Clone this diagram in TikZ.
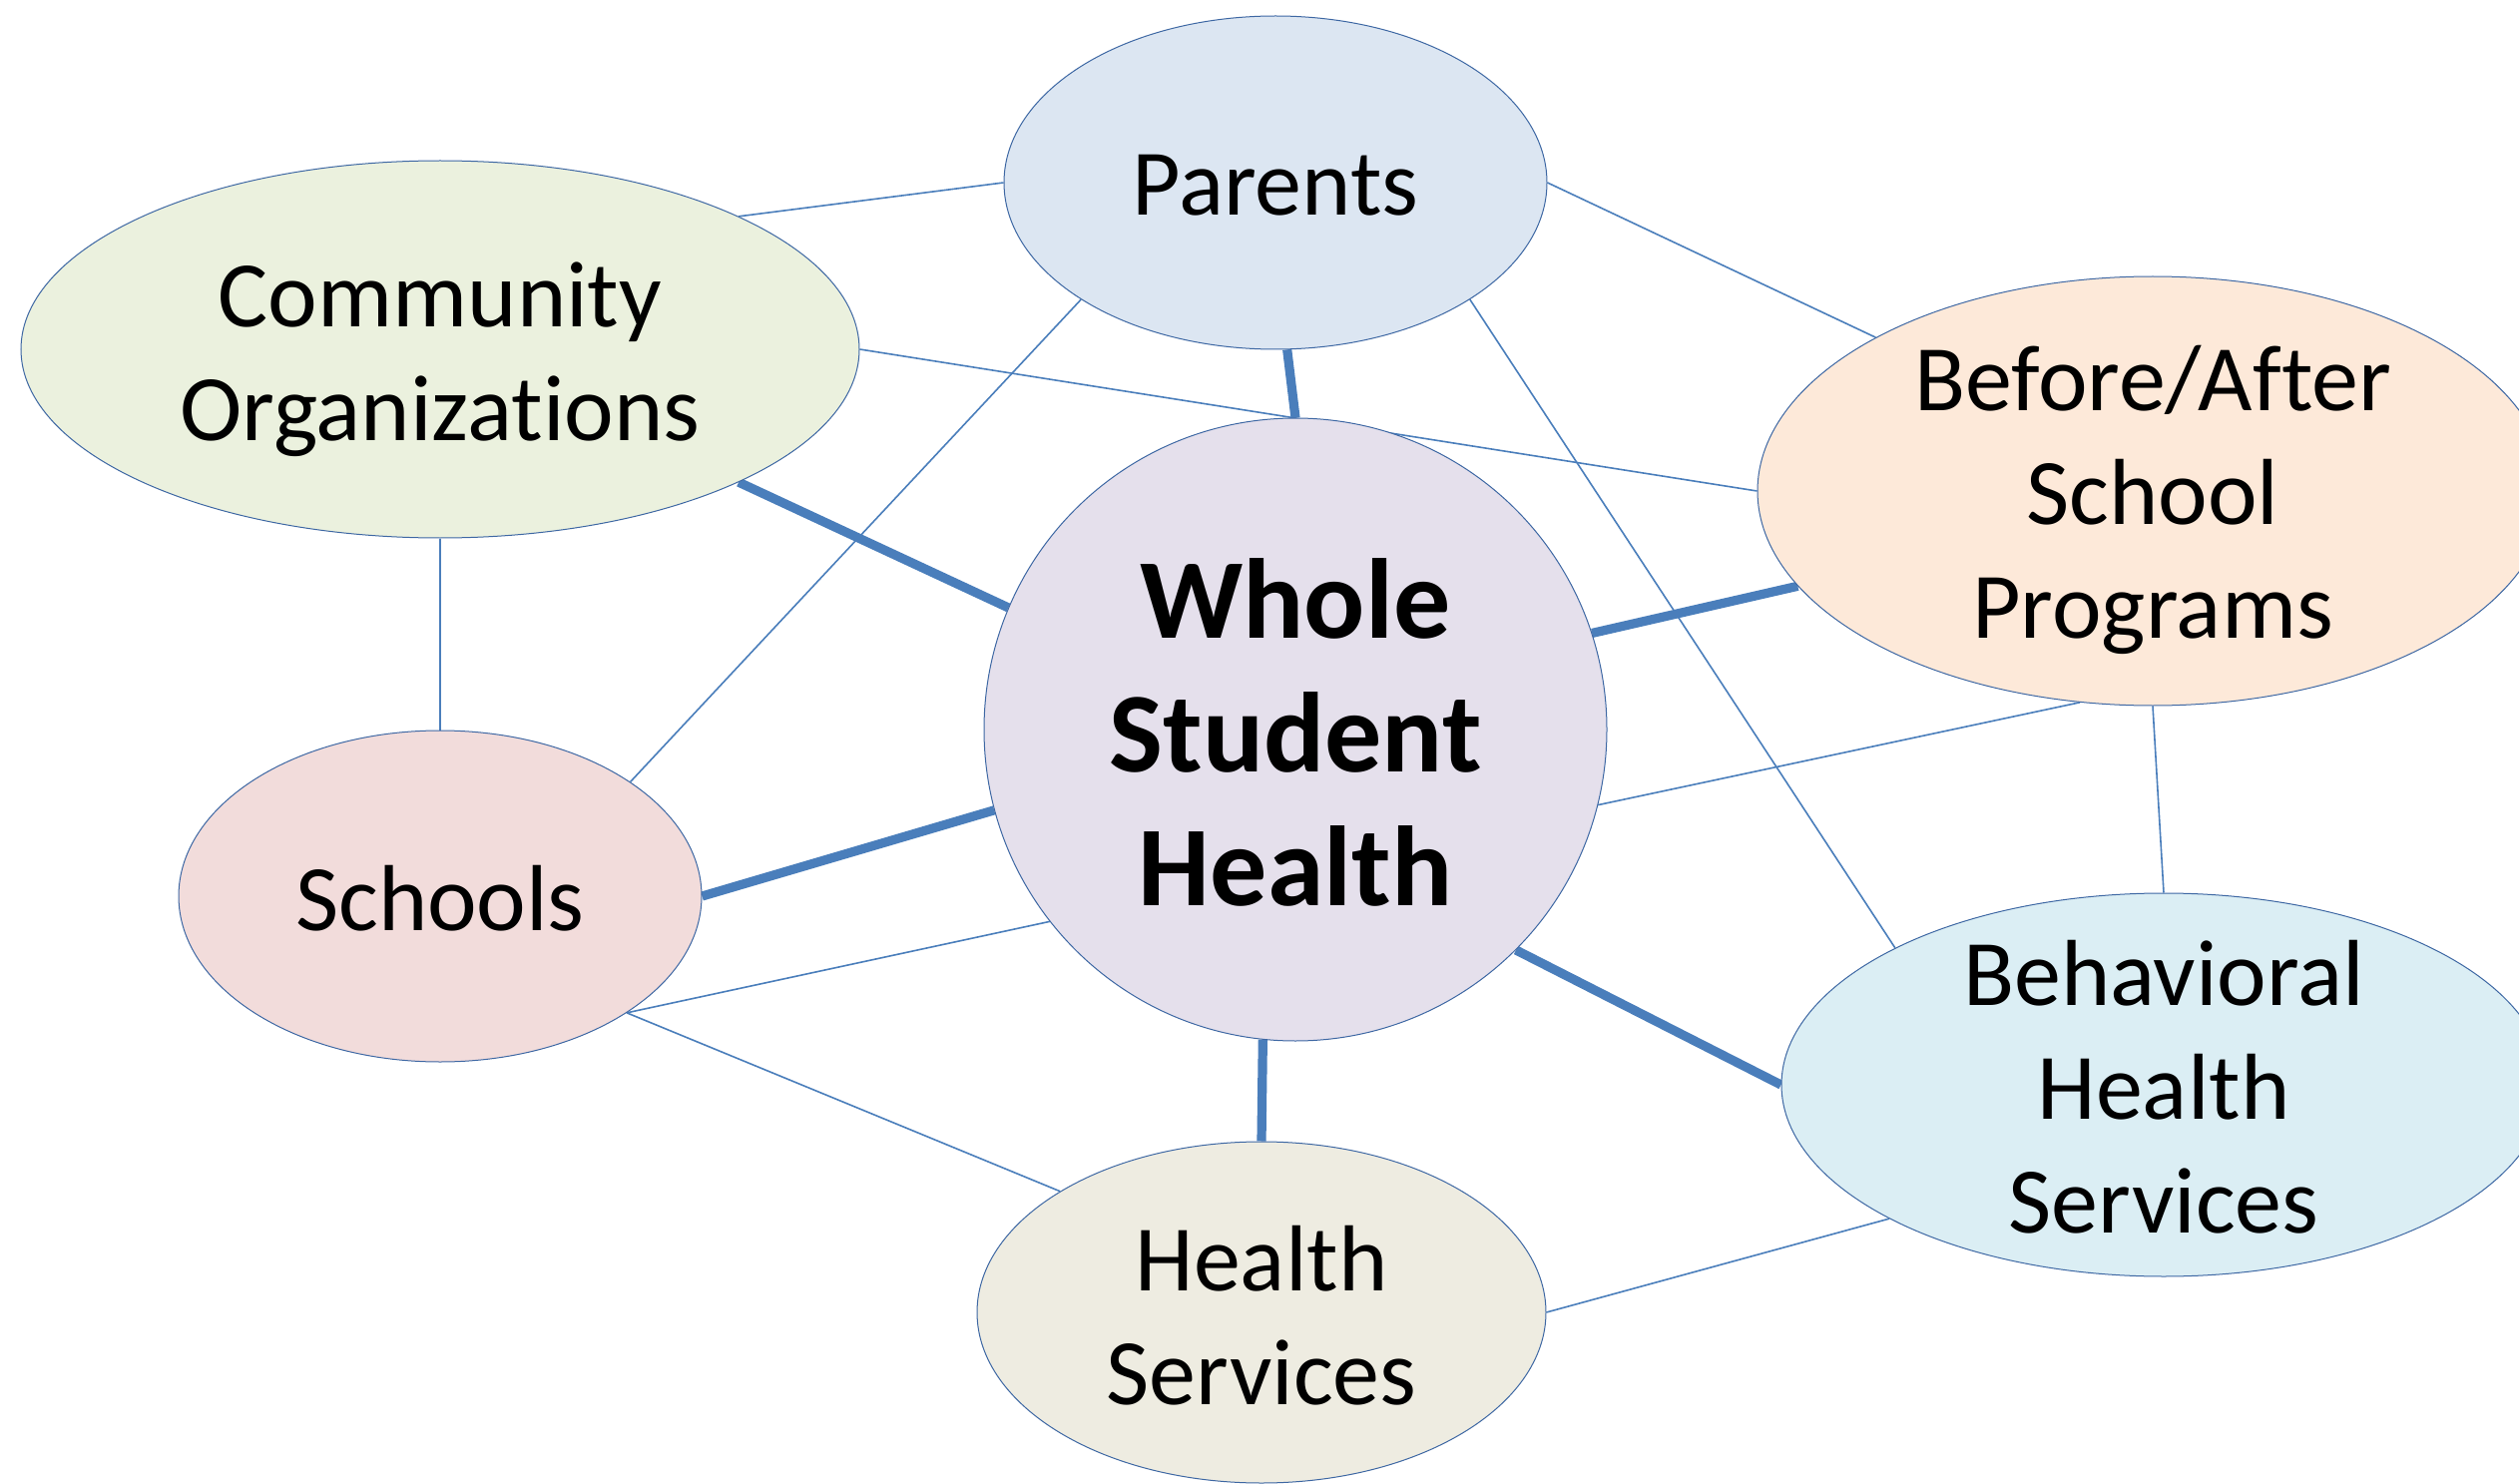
\documentclass[tikz,border=0pt]{standalone}
\usepackage{fontspec}
\setmainfont{Carlito}[Ligatures={NoCommon,NoRequired,NoContextual}]
\usetikzlibrary{shapes.geometric}
\pgfdeclarelayer{bg}
\pgfsetlayers{bg,main}
\definecolor{linkblue}{HTML}{4A7EBB}
\definecolor{rimblue}{HTML}{3D67A3}
\definecolor{parfill}{HTML}{DCE6F2}
\definecolor{comfill}{HTML}{EBF1DE}
\definecolor{basfill}{HTML}{FDE9D9}
\definecolor{wshfill}{HTML}{E5E0EC}
\definecolor{schfill}{HTML}{F2DCDB}
\definecolor{hsfill}{HTML}{EEECE1}
\definecolor{bhfill}{HTML}{DBEEF4}
\begin{document}
\begin{tikzpicture}[x=0.5pt,y=-0.5pt,
  bubble/.style={ellipse, draw=rimblue, line width=0.5pt, inner sep=0pt},
  lbl/.style={align=center, inner sep=0pt, font=\fontsize{47}{57}\selectfont},
  biglbl/.style={align=center, inner sep=0pt, font=\fontsize{57}{67}\selectfont\bfseries},
  strong/.style={draw=linkblue, line width=4.6pt},
  weak/.style={draw=linkblue, line width=0.8pt}]
\useasboundingbox (0,0) rectangle (2524,1487);
% bubbles
\node[bubble, fill=parfill, minimum width=272pt, minimum height=167pt] (par) at (1278,183) {};
\node[lbl] (par-t) at (1278,186) {Parents};
\node[bubble, fill=comfill, minimum width=420pt, minimum height=189pt] (com) at (441,350) {};
\node[lbl] (com-t) at (441,360) {Community\\Organizations};
\node[bubble, fill=basfill, minimum width=396pt, minimum height=215pt] (bas) at (2157,492) {};
\node[lbl] (bas-t) at (2157,501) {Before/After\\School\\Programs};
\node[circle, draw=rimblue, line width=0.5pt, inner sep=0pt, fill=wshfill, minimum size=312pt] (wsh) at (1298,731) {};
\node[biglbl] (wsh-t) at (1298,734) {Whole\\Student\\Health};
\node[bubble, fill=schfill, minimum width=262pt, minimum height=166pt] (sch) at (441,898) {};
\node[lbl] (sch-t) at (441,900) {Schools};
\node[bubble, fill=hsfill, minimum width=285pt, minimum height=171pt] (hs) at (1264,1315) {};
\node[lbl] (hs-t) at (1264,1318) {Health\\Services};
\node[bubble, fill=bhfill, minimum width=383pt, minimum height=192pt] (bh) at (2168,1087) {};
\node[lbl] (bh-t) at (2168,1089) {Behavioral\\Health\\Services};
% connectors
\begin{pgfonlayer}{bg}
\draw[strong] (par.-86.6) -- (wsh.90.9);
\draw[strong] (com.-24.7) -- (wsh.157.8);
\draw[strong] (bas.195.75) -- (wsh.18.1);
\draw[strong] (sch.0) -- (wsh.195);
\draw[strong] (hs.90) -- (wsh.264);
\draw[strong] (bh.180) -- (wsh.-45);
\draw[weak] (com.24.5) -- (par.180);
\draw[weak] (par.0) -- (bas.151.4);
\draw[weak] (com.0) -- (bas.180);
\draw[weak] (par.211.2) -- (sch.31.6);
\draw[weak] (par.-31.4) -- (bh.153.3);
\draw[weak] (com.-90) -- (sch.90);
\draw[weak] (bas.251.5) -- (wsh.-14.7);
\draw[weak] (bas.-90) -- (bh.90);
\draw[weak] (sch.-32.5) -- (wsh.218.8);
\draw[weak] (sch.-32.5) -- (hs.149.2);
\draw[weak] (hs.0) -- (bh.206.5);
\end{pgfonlayer}
\end{tikzpicture}
\end{document}
